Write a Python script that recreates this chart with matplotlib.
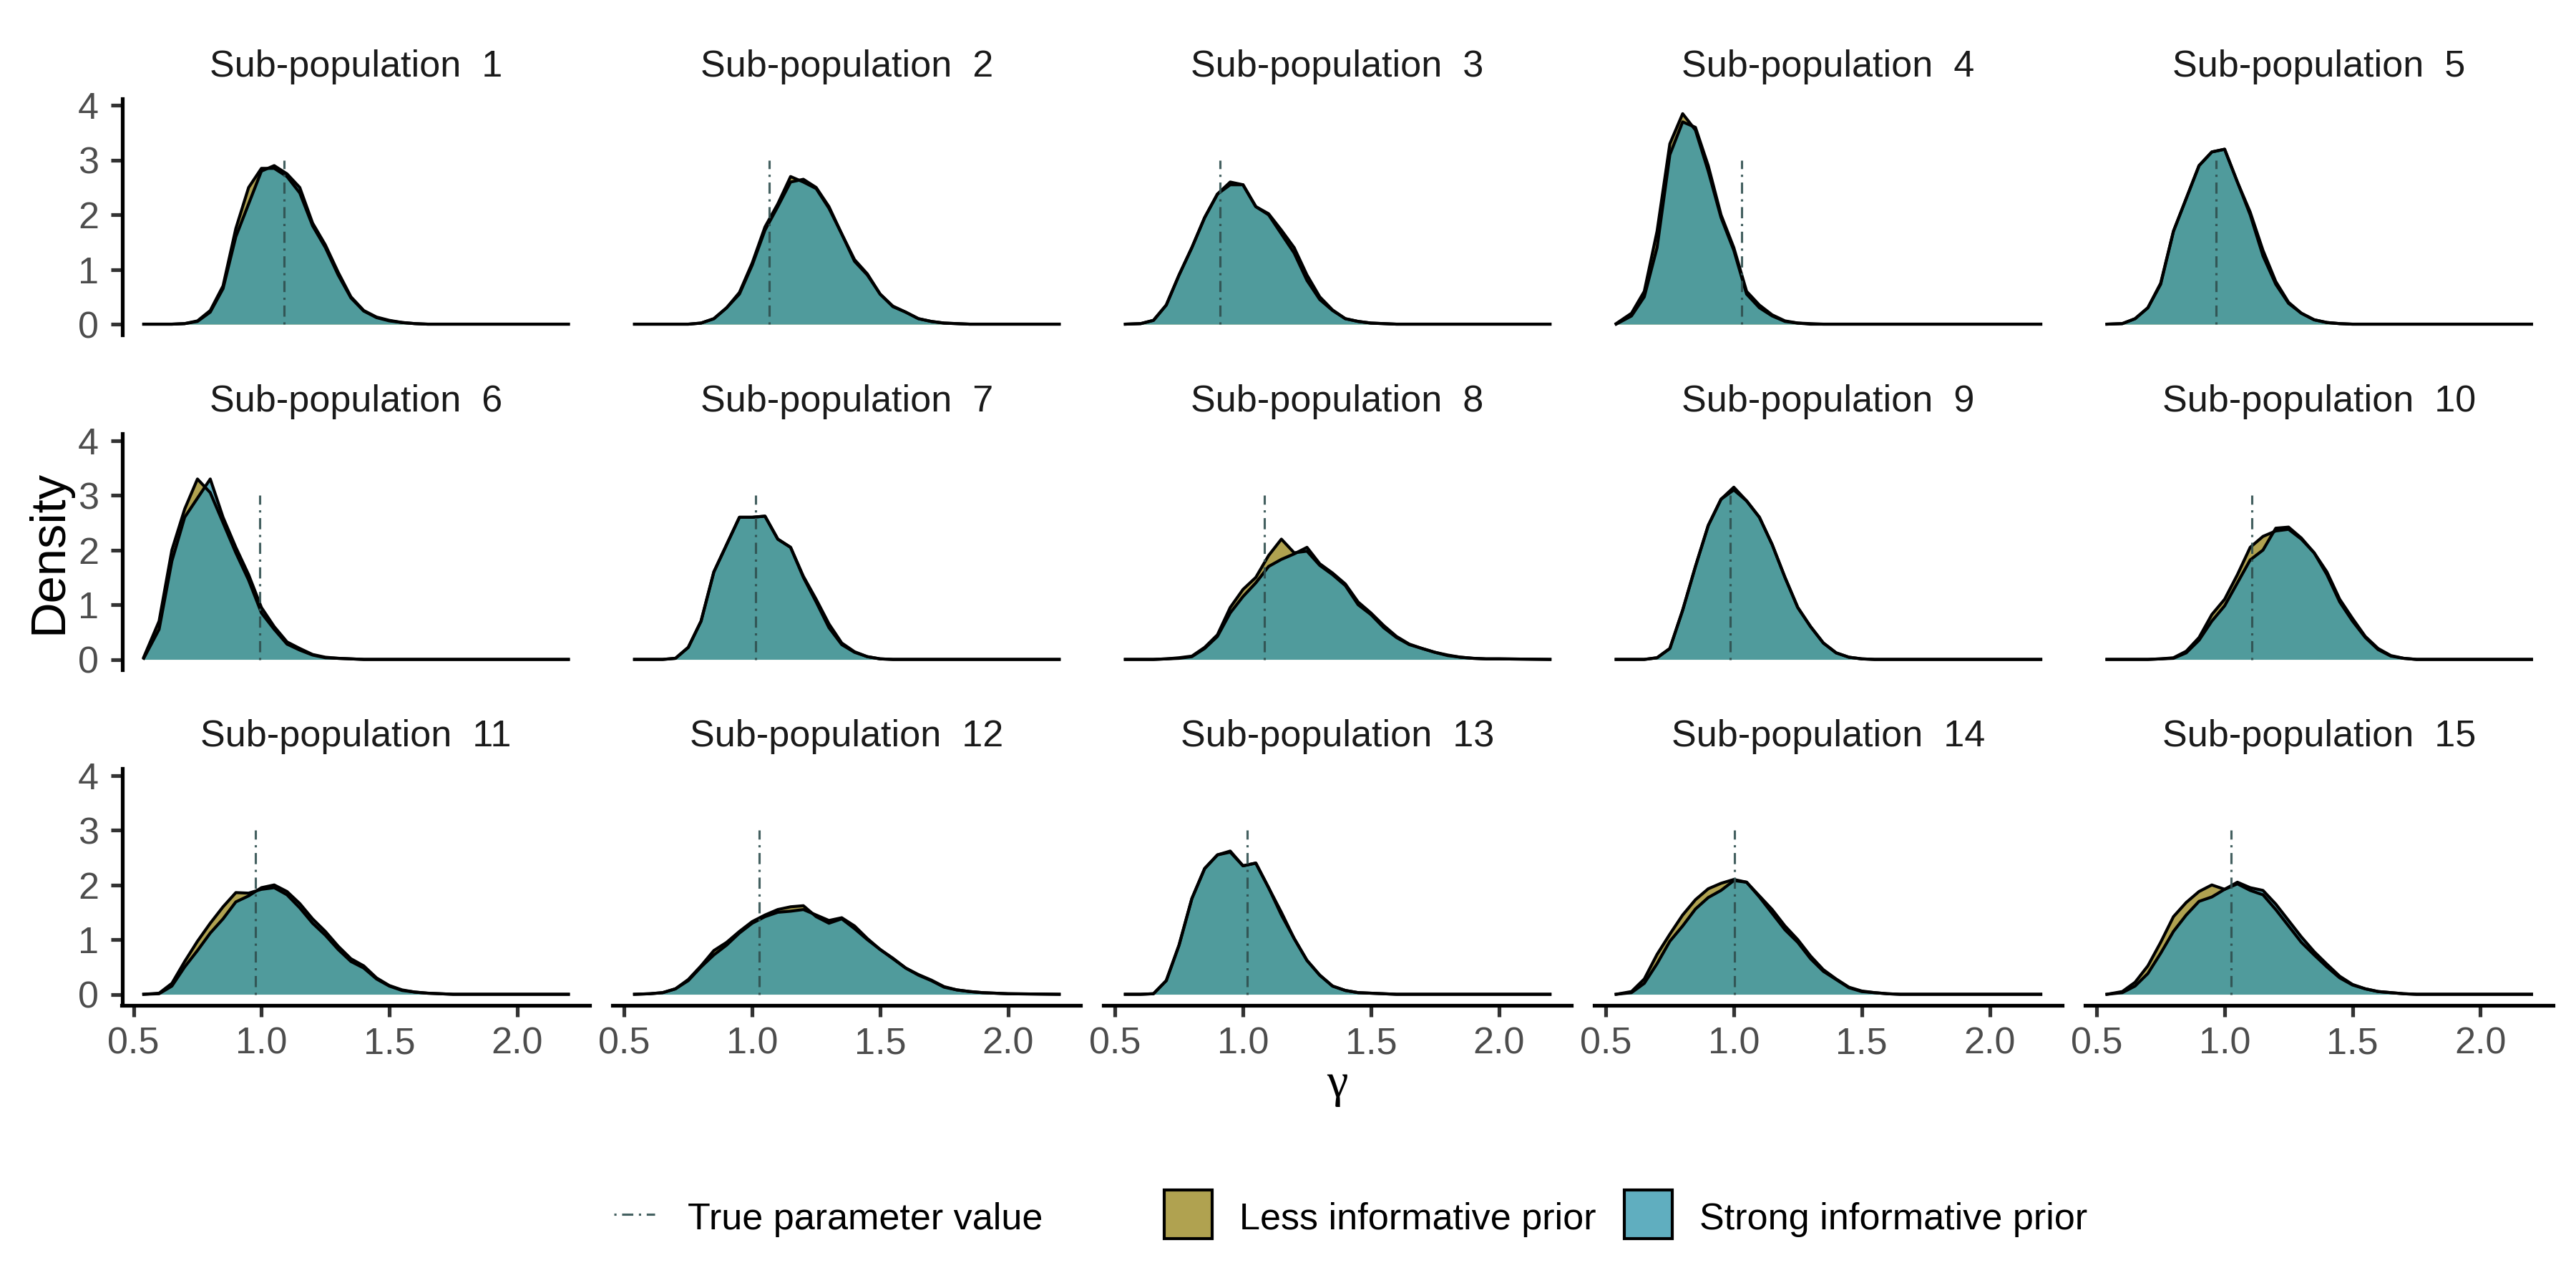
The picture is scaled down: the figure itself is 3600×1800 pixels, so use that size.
import matplotlib.pyplot as plt
from matplotlib.patches import Rectangle
from matplotlib.lines import Line2D
from matplotlib.colors import to_rgba

plt.rcParams['font.family'] = ['Liberation Sans', 'DejaVu Sans']

#############################################
# Data
#############################################
# density evaluated on a shared gamma grid
gamma_grid = [0.54, 0.60, 0.65, 0.70, 0.75, 0.80, 0.85, 0.90, 0.95, 1.00,
              1.05, 1.10, 1.15, 1.20, 1.25, 1.30, 1.35, 1.40, 1.45, 1.50,
              1.55, 1.60, 1.65, 1.70, 1.75, 1.80, 1.85, 1.90, 1.95, 2.00, 2.20]

panel_titles = [f"Sub-population  {i}" for i in range(1, 16)]

true_gamma = [1.088, 1.067, 0.91, 1.03, 0.968,
              0.994, 1.012, 1.083, 0.987, 1.106,
              0.976, 1.027, 1.017, 1.002, 1.024]

less_informative = [
    [0, 0, 0, 0.01, 0.06, 0.25, 0.7, 1.75, 2.5, 2.85, 2.85, 2.7, 2.4, 1.8, 1.4, 0.9, 0.48, 0.24, 0.12, 0.06, 0.03, 0.01, 0, 0, 0, 0, 0, 0, 0, 0, 0],
    [0, 0, 0, 0, 0, 0.02, 0.1, 0.3, 0.58, 1.12, 1.78, 2.2, 2.7, 2.6, 2.48, 2.12, 1.65, 1.15, 0.9, 0.55, 0.32, 0.22, 0.1, 0.05, 0.02, 0.01, 0, 0, 0, 0, 0],
    [0, 0.01, 0.07, 0.35, 0.9, 1.4, 1.95, 2.38, 2.6, 2.55, 2.15, 2.02, 1.72, 1.4, 0.9, 0.5, 0.26, 0.1, 0.05, 0.02, 0.01, 0, 0, 0, 0, 0, 0, 0, 0, 0, 0],
    [0.01, 0.2, 0.6, 1.7, 3.3, 3.85, 3.55, 2.8, 1.95, 1.35, 0.55, 0.3, 0.15, 0.05, 0.02, 0, 0, 0, 0, 0, 0, 0, 0, 0, 0, 0, 0, 0, 0, 0, 0],
    [0, 0.01, 0.1, 0.3, 0.75, 1.7, 2.3, 2.9, 3.15, 3.2, 2.6, 2.05, 1.35, 0.78, 0.4, 0.2, 0.08, 0.03, 0.01, 0, 0, 0, 0, 0, 0, 0, 0, 0, 0, 0, 0],
    [0.04, 0.7, 2.0, 2.75, 3.3, 3.05, 2.5, 1.95, 1.45, 0.85, 0.55, 0.28, 0.17, 0.08, 0.03, 0.02, 0.01, 0, 0, 0, 0, 0, 0, 0, 0, 0, 0, 0, 0, 0, 0],
    [0, 0, 0, 0.02, 0.22, 0.7, 1.6, 2.1, 2.6, 2.6, 2.62, 2.2, 2.05, 1.52, 1.1, 0.65, 0.3, 0.14, 0.05, 0.01, 0, 0, 0, 0, 0, 0, 0, 0, 0, 0, 0],
    [0, 0, 0, 0.01, 0.03, 0.06, 0.22, 0.45, 0.95, 1.28, 1.5, 1.9, 2.2, 1.95, 1.98, 1.72, 1.55, 1.35, 1.0, 0.82, 0.58, 0.4, 0.27, 0.2, 0.13, 0.07, 0.04, 0.02, 0.01, 0.01, 0],
    [0, 0, 0, 0.03, 0.2, 0.9, 1.7, 2.45, 2.93, 3.15, 2.9, 2.6, 2.1, 1.5, 0.95, 0.6, 0.3, 0.12, 0.04, 0.01, 0, 0, 0, 0, 0, 0, 0, 0, 0, 0, 0],
    [0, 0, 0, 0, 0.01, 0.03, 0.15, 0.4, 0.82, 1.1, 1.55, 2.05, 2.25, 2.35, 2.38, 2.2, 1.95, 1.55, 1.05, 0.7, 0.4, 0.18, 0.06, 0.02, 0, 0, 0, 0, 0, 0, 0],
    [0, 0.02, 0.2, 0.6, 0.97, 1.3, 1.6, 1.86, 1.85, 1.92, 1.95, 1.82, 1.58, 1.3, 1.08, 0.82, 0.6, 0.48, 0.28, 0.15, 0.07, 0.04, 0.02, 0.01, 0, 0, 0, 0, 0, 0, 0],
    [0, 0.01, 0.03, 0.1, 0.27, 0.52, 0.8, 0.95, 1.15, 1.33, 1.45, 1.55, 1.6, 1.62, 1.42, 1.3, 1.38, 1.2, 1.0, 0.82, 0.65, 0.48, 0.35, 0.25, 0.13, 0.08, 0.05, 0.03, 0.02, 0.01, 0],
    [0, 0, 0.01, 0.25, 0.9, 1.75, 2.3, 2.55, 2.62, 2.35, 2.4, 1.95, 1.5, 1.02, 0.62, 0.35, 0.15, 0.07, 0.03, 0.02, 0.01, 0, 0, 0, 0, 0, 0, 0, 0, 0, 0],
    [0, 0.05, 0.28, 0.73, 1.1, 1.45, 1.73, 1.93, 2.03, 2.1, 2.05, 1.78, 1.48, 1.18, 0.95, 0.65, 0.42, 0.27, 0.12, 0.05, 0.03, 0.01, 0, 0, 0, 0, 0, 0, 0, 0, 0],
    [0, 0.05, 0.22, 0.52, 0.95, 1.42, 1.68, 1.88, 2.0, 1.92, 2.02, 1.9, 1.82, 1.55, 1.25, 0.95, 0.72, 0.5, 0.3, 0.17, 0.1, 0.05, 0.03, 0.01, 0, 0, 0, 0, 0, 0, 0],
]

strong_informative = [
    [0, 0, 0, 0.01, 0.05, 0.22, 0.65, 1.6, 2.2, 2.8, 2.9, 2.75, 2.5, 1.85, 1.45, 0.95, 0.5, 0.25, 0.13, 0.07, 0.03, 0.01, 0, 0, 0, 0, 0, 0, 0, 0, 0],
    [0, 0, 0, 0, 0, 0.02, 0.1, 0.3, 0.55, 1.08, 1.72, 2.15, 2.6, 2.65, 2.5, 2.15, 1.65, 1.18, 0.92, 0.55, 0.33, 0.22, 0.1, 0.05, 0.02, 0.01, 0, 0, 0, 0, 0],
    [0, 0.01, 0.07, 0.35, 0.9, 1.4, 1.95, 2.38, 2.55, 2.55, 2.15, 2.0, 1.65, 1.3, 0.8, 0.45, 0.25, 0.1, 0.05, 0.02, 0.01, 0, 0, 0, 0, 0, 0, 0, 0, 0, 0],
    [0, 0.15, 0.5, 1.4, 3.1, 3.7, 3.6, 2.9, 2.0, 1.4, 0.6, 0.35, 0.17, 0.06, 0.02, 0.01, 0, 0, 0, 0, 0, 0, 0, 0, 0, 0, 0, 0, 0, 0, 0],
    [0, 0.01, 0.1, 0.3, 0.73, 1.7, 2.3, 2.9, 3.15, 3.2, 2.6, 2.0, 1.25, 0.73, 0.38, 0.2, 0.08, 0.03, 0.01, 0, 0, 0, 0, 0, 0, 0, 0, 0, 0, 0, 0],
    [0.02, 0.55, 1.8, 2.6, 2.95, 3.3, 2.6, 2.05, 1.55, 0.95, 0.6, 0.32, 0.2, 0.09, 0.04, 0.02, 0.01, 0, 0, 0, 0, 0, 0, 0, 0, 0, 0, 0, 0, 0, 0],
    [0, 0, 0, 0.02, 0.22, 0.7, 1.6, 2.1, 2.6, 2.6, 2.62, 2.2, 2.05, 1.5, 1.05, 0.58, 0.27, 0.13, 0.05, 0.01, 0, 0, 0, 0, 0, 0, 0, 0, 0, 0, 0],
    [0, 0, 0, 0.01, 0.02, 0.05, 0.2, 0.42, 0.85, 1.15, 1.4, 1.7, 1.83, 1.93, 2.05, 1.75, 1.58, 1.38, 1.05, 0.85, 0.62, 0.42, 0.28, 0.2, 0.13, 0.08, 0.04, 0.02, 0.01, 0.01, 0],
    [0, 0, 0, 0.03, 0.2, 0.9, 1.7, 2.45, 2.93, 3.1, 2.9, 2.6, 2.1, 1.5, 0.95, 0.6, 0.3, 0.12, 0.04, 0.01, 0, 0, 0, 0, 0, 0, 0, 0, 0, 0, 0],
    [0, 0, 0, 0, 0.01, 0.02, 0.12, 0.35, 0.7, 0.98, 1.4, 1.82, 2.0, 2.4, 2.42, 2.22, 1.95, 1.6, 1.1, 0.75, 0.42, 0.2, 0.07, 0.02, 0, 0, 0, 0, 0, 0, 0],
    [0, 0.01, 0.15, 0.5, 0.8, 1.12, 1.38, 1.69, 1.8, 1.95, 2.0, 1.88, 1.66, 1.38, 1.15, 0.88, 0.65, 0.52, 0.3, 0.16, 0.08, 0.04, 0.02, 0.01, 0, 0, 0, 0, 0, 0, 0],
    [0, 0.01, 0.03, 0.1, 0.25, 0.5, 0.72, 0.9, 1.12, 1.3, 1.42, 1.5, 1.52, 1.55, 1.45, 1.35, 1.4, 1.25, 1.02, 0.82, 0.66, 0.48, 0.36, 0.26, 0.14, 0.08, 0.05, 0.03, 0.02, 0.01, 0],
    [0, 0, 0.01, 0.25, 0.9, 1.75, 2.3, 2.55, 2.6, 2.35, 2.4, 1.95, 1.45, 1.02, 0.62, 0.35, 0.15, 0.07, 0.03, 0.02, 0.01, 0, 0, 0, 0, 0, 0, 0, 0, 0, 0],
    [0, 0.03, 0.2, 0.56, 0.97, 1.25, 1.56, 1.77, 1.9, 2.08, 2.05, 1.8, 1.55, 1.25, 1.0, 0.7, 0.45, 0.28, 0.13, 0.06, 0.03, 0.01, 0, 0, 0, 0, 0, 0, 0, 0, 0],
    [0, 0.03, 0.15, 0.38, 0.75, 1.15, 1.45, 1.7, 1.78, 1.92, 2.05, 1.95, 1.9, 1.65, 1.35, 1.05, 0.78, 0.55, 0.33, 0.18, 0.1, 0.05, 0.03, 0.01, 0, 0, 0, 0, 0, 0, 0],
]

x_ticks = [0.5, 1.0, 1.5, 2.0]
x_tick_labels = ["0.5", "1.0", "1.5", "2.0"]
y_ticks = [0, 1, 2, 3, 4]

#--------------------------------
# Style
#--------------------------------
LESS_COL = "#9C8B24"
STRONG_COL = "#389AB0"
FILL_ALPHA = 0.8
TRUE_COL = "#2F4F4F"
TICK_COL = "#333333"
TICK_LAB_COL = "#4D4D4D"

W, H = 3600, 1800
col_left = [170.5 + 685.9 * k for k in range(5)]
row_top = [137.5, 606.0, 1074.0]
panel_w, panel_h = 653.5, 330.5


def fx(px):
    return px / W


def fy(px):
    return 1 - px / H


fig = plt.figure(figsize=(12, 6), dpi=300)

for i in range(15):
    r, c = divmod(i, 5)
    ax = fig.add_axes([fx(col_left[c]), fy(row_top[r] + panel_h), panel_w / W, panel_h / H])

    # less informative first, strong on top
    ax.fill_between(gamma_grid, 0, less_informative[i], color=LESS_COL, alpha=FILL_ALPHA, lw=0)
    ax.plot(gamma_grid, less_informative[i], color="black", lw=1.0, solid_joinstyle="round")
    ax.fill_between(gamma_grid, 0, strong_informative[i], color=STRONG_COL, alpha=FILL_ALPHA, lw=0)
    ax.plot(gamma_grid, strong_informative[i], color="black", lw=1.0, solid_joinstyle="round")

    # true parameter value
    ax.plot([true_gamma[i], true_gamma[i]], [0, 3], color=TRUE_COL, lw=0.75, alpha=0.9,
            linestyle=(0, (1, 2.5, 5, 2.5)))

    ax.set_xlim(0.455, 2.283)
    ax.set_ylim(-0.196, 4.13)

    for s in ["top", "right"]:
        ax.spines[s].set_visible(False)
    ax.spines["left"].set_linewidth(1.25)
    ax.spines["bottom"].set_linewidth(1.25)

    ax.tick_params(axis="both", length=3.8, width=1.25, color=TICK_COL,
                   labelsize=12.5, labelcolor=TICK_LAB_COL)
    ax.tick_params(axis="y", pad=4)
    ax.tick_params(axis="x", pad=3.5)

    if c == 0:
        ax.set_yticks(y_ticks)
    else:
        ax.spines["left"].set_visible(False)
        ax.set_yticks([])

    if r == 2:
        ax.set_xticks(x_ticks)
        ax.set_xticklabels(x_tick_labels)
    else:
        ax.spines["bottom"].set_visible(False)
        ax.set_xticks([])

    ax.text(0.5, 1 + 31 / panel_h, panel_titles[i], transform=ax.transAxes,
            ha="center", va="baseline", fontsize=12.5, color="#1A1A1A")

#--------------------------------
# Axis titles
#--------------------------------
fig.text(fx(1869), fy(1533), "\u03b3", ha="center", va="baseline", fontsize=16,
         family=["Liberation Serif", "DejaVu Serif"])
fig.text(fx(86), fy(771), "Density", rotation=90, rotation_mode="anchor",
         ha="center", va="baseline", fontsize=16.5, color="black")

#--------------------------------
# Legend (bottom, one row)
#--------------------------------
leg_base = fy(1718)
leg_mid = fy(1697)

fig.add_artist(Line2D([fx(858), fx(915)], [leg_mid, leg_mid], transform=fig.transFigure,
                      color=TRUE_COL, lw=0.75, alpha=0.9, linestyle=(0, (1, 2.5, 5, 2.5))))
fig.text(fx(961), leg_base, "True parameter value", va="baseline", fontsize=12.5)

for x0, col, lab, tx in [(1627, LESS_COL, "Less informative prior", 1732),
                         (2270, STRONG_COL, "Strong informative prior", 2375)]:
    fig.add_artist(Rectangle((fx(x0), fy(1731)), 67 / W, 68 / H, transform=fig.transFigure,
                             facecolor=to_rgba(col, FILL_ALPHA), edgecolor="black", lw=1.0))
    fig.text(fx(tx), leg_base, lab, va="baseline", fontsize=12.5)

fig.savefig("out.png", dpi=300, facecolor="white")
